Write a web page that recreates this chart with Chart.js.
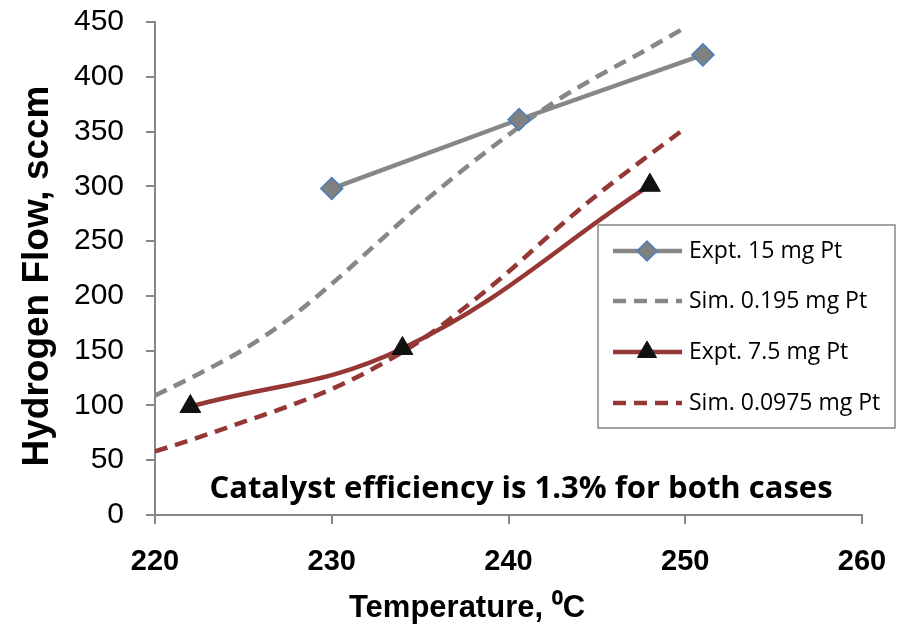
<!DOCTYPE html>
<html>
<head>
<meta charset="utf-8">
<script src="https://cdn.jsdelivr.net/npm/chart.js@4.4.0/dist/chart.umd.min.js"></script>
<style>
  body { margin: 0; background: #fff; }
  #wrap { width: 903px; height: 625px; }
</style>
</head>
<body>
<div id="wrap"><canvas id="myChart" width="903" height="625"></canvas></div>
<script>
// Datos
const expt15Temp = [230, 240.6, 251];
const expt15Flow = [298, 361, 420];

const expt75Temp = [222, 234, 248];
const expt75Flow = [99, 152, 301];

const simTemp = [220, 222.5, 225, 227.5, 230, 232.5, 235, 237.5, 240, 242.5, 245, 247.5, 250];
const sim195Flow = [109, 129, 151, 178, 211, 247, 283, 316, 347, 376, 400, 422, 445];
const sim0975Flow = [58, 71, 85, 99, 115, 135, 159, 189, 222, 258, 292, 323, 353];

const xTicks = [220, 230, 240, 250, 260];
const yTicks = [0, 50, 100, 150, 200, 250, 300, 350, 400, 450];

const seriesNames = ['Expt. 15 mg Pt', 'Sim. 0.195 mg Pt', 'Expt. 7.5 mg Pt', 'Sim. 0.0975 mg Pt'];
const note = 'Catalyst efficiency is 1.3% for both cases';

const GRAY = '#878787';
const RED = '#953735';
const AXIS = '#868686';

function pts(xs, ys) {
  return xs.map((x, i) => ({ x: x, y: ys[i] }));
}

// Leyenda, nota y titulos de ejes dibujados a mano
const extras = {
  id: 'extras',
  afterDraw(chart) {
    const ctx = chart.ctx;
    ctx.save();

    // nota
    ctx.fillStyle = '#000';
    ctx.font = 'bold 31px "Open Sans", sans-serif';
    ctx.textAlign = 'center';
    ctx.textBaseline = 'middle';
    ctx.fillText(note, 521, 489);

    // titulo eje x
    ctx.textBaseline = 'alphabetic';
    ctx.font = 'bold 31px "Liberation Sans", Arial, sans-serif';
    ctx.fillText('Temperature, \u2070C', 467, 617);

    // titulo eje y
    ctx.save();
    ctx.translate(48, 276);
    ctx.rotate(-Math.PI / 2);
    ctx.font = 'bold 37px "Liberation Sans", Arial, sans-serif';
    ctx.fillText('Hydrogen Flow, sccm', 0, 0);
    ctx.restore();

    // leyenda
    ctx.fillStyle = '#fff';
    ctx.fillRect(598, 225, 297, 203);
    ctx.strokeStyle = AXIS;
    ctx.lineWidth = 1.5;
    ctx.strokeRect(598, 225, 297, 203);

    const rows = [251, 301, 352, 403];
    chart.data.datasets.forEach((ds, i) => {
      const y = rows[i];
      ctx.save();
      ctx.strokeStyle = ds.borderColor;
      ctx.lineWidth = ds.borderWidth;
      ctx.setLineDash(ds.borderDash || []);
      ctx.beginPath();
      ctx.moveTo(613, y);
      ctx.lineTo(682, y);
      ctx.stroke();
      ctx.setLineDash([]);
      if (ds.pointRadius > 0) {
        ctx.fillStyle = ds.pointBackgroundColor;
        ctx.strokeStyle = ds.pointBorderColor;
        ctx.lineWidth = ds.pointBorderWidth;
        Chart.helpers.drawPoint(ctx, {
          pointStyle: ds.pointStyle,
          radius: ds.pointRadius - 1,
          rotation: 0,
          borderWidth: ds.pointBorderWidth
        }, 647, y);
      }
      ctx.restore();
      ctx.fillStyle = '#000';
      ctx.font = '23px "Open Sans", sans-serif';
      ctx.textAlign = 'left';
      ctx.textBaseline = 'middle';
      ctx.fillText(ds.label, 689, y);
    });

    ctx.restore();
  }
};

const ctx = document.getElementById('myChart').getContext('2d');

new Chart(ctx, {
  type: 'line',
  data: {
    datasets: [
      {
        label: seriesNames[0],
        data: pts(expt15Temp, expt15Flow),
        borderColor: GRAY,
        borderWidth: 4.5,
        tension: 0,
        pointStyle: 'rectRot',
        pointRadius: 11,
        pointBackgroundColor: '#808080',
        pointBorderColor: '#4a7ebb',
        pointBorderWidth: 1.5
      },
      {
        label: seriesNames[1],
        data: pts(simTemp, sim195Flow),
        borderColor: GRAY,
        borderWidth: 4.5,
        borderDash: [13, 8],
        cubicInterpolationMode: 'monotone',
        pointRadius: 0
      },
      {
        label: seriesNames[2],
        data: pts(expt75Temp, expt75Flow),
        borderColor: RED,
        borderWidth: 4.5,
        tension: 0.4,
        pointStyle: 'triangle',
        pointRadius: 12,
        pointBackgroundColor: '#111',
        pointBorderColor: '#111',
        pointBorderWidth: 1
      },
      {
        label: seriesNames[3],
        data: pts(simTemp, sim0975Flow),
        borderColor: RED,
        borderWidth: 4.5,
        borderDash: [13, 8],
        cubicInterpolationMode: 'monotone',
        pointRadius: 0
      }
    ]
  },
  options: {
    responsive: false,
    animation: false,
    layout: { padding: { top: 22, right: 41 } },
    plugins: {
      legend: { display: false },
      tooltip: { enabled: false }
    },
    scales: {
      x: {
        type: 'linear',
        min: 220,
        max: 260,
        afterBuildTicks: s => { s.ticks = xTicks.map(v => ({ value: v })); },
        afterFit: s => { s.height = 110; s.paddingLeft = 0; s.paddingRight = 0; },
        border: { color: AXIS, width: 2 },
        grid: { drawOnChartArea: false, color: AXIS, lineWidth: 2, tickLength: 9 },
        ticks: {
          color: '#000',
          padding: 21,
          font: { family: '"Liberation Sans", Arial, sans-serif', size: 29, weight: 'bold' }
        }
      },
      y: {
        min: 0,
        max: 450,
        afterBuildTicks: s => { s.ticks = yTicks.map(v => ({ value: v })); },
        afterFit: s => { s.width = 155; s.paddingTop = 0; s.paddingBottom = 0; },
        border: { color: AXIS, width: 2 },
        grid: { drawOnChartArea: false, color: AXIS, lineWidth: 2, tickLength: 9 },
        ticks: {
          color: '#000',
          padding: 22,
          font: { family: '"Liberation Sans", Arial, sans-serif', size: 30 }
        }
      }
    }
  },
  plugins: [extras]
});
</script>
</body>
</html>
